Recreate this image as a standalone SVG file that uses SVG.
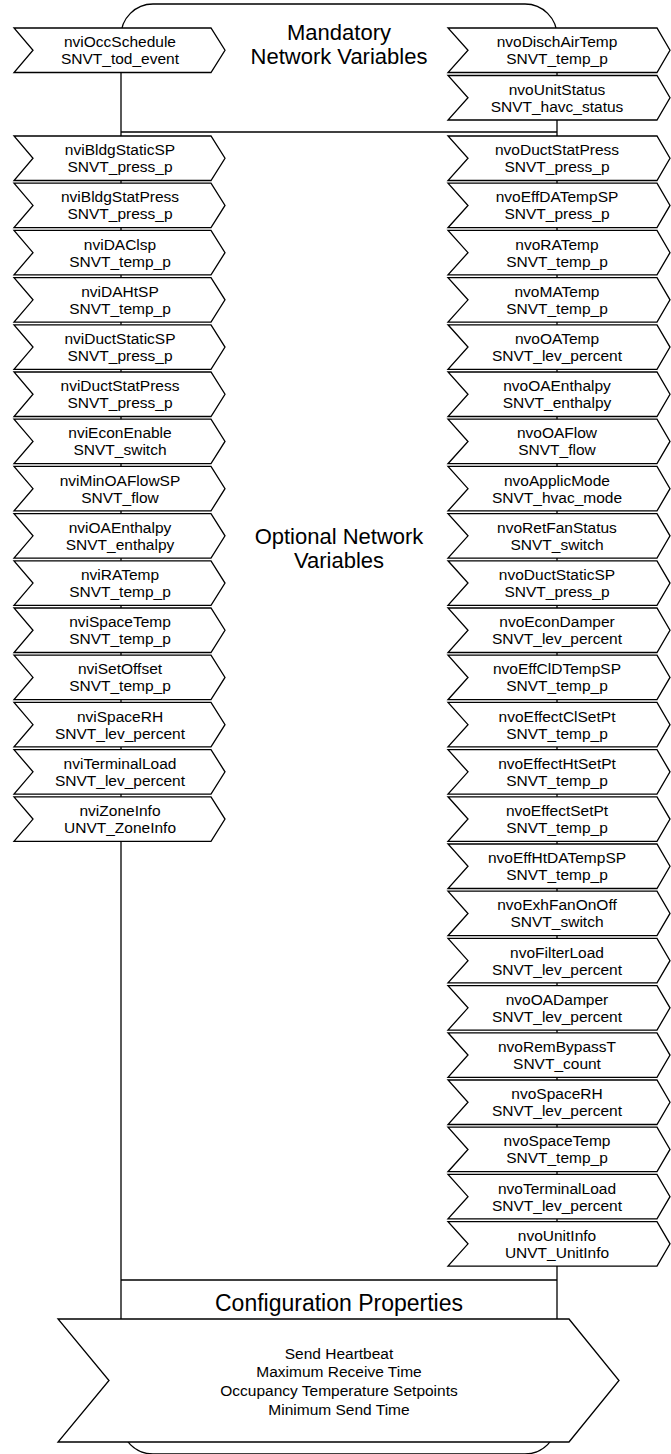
<svg xmlns="http://www.w3.org/2000/svg" xmlns:xlink="http://www.w3.org/1999/xlink" width="671" height="1454" viewBox="0 0 671 1454">
<style>
.ln{fill:none;stroke:#000;stroke-width:1.3}
.ch{fill:#fff;stroke:#000;stroke-width:1.3;stroke-linejoin:miter}
use{fill:#fff;stroke:#000;stroke-width:1.3}
.t{font-family:"Liberation Sans",Arial,sans-serif;font-size:15.5px;fill:#000;text-anchor:middle}
.h{font-family:"Liberation Sans",Arial,sans-serif;font-size:22px;fill:#000;text-anchor:middle}
.hc{font-family:"Liberation Sans",Arial,sans-serif;font-size:23px;fill:#000;text-anchor:middle}
</style>
<defs>
<path id="chL" d="M14,0 H211 L225,22.25 L211,44.5 H14 L33,22.25 Z"/>
<path id="chR" d="M448,0 H657 L670,22.25 L657,44.5 H448 L468,22.25 Z"/>
</defs>
<g id="connectors">
<rect class="ln" x="121" y="4" width="436" height="1450" rx="32" ry="32"/>
<line class="ln" x1="121" y1="132" x2="557" y2="132"/>
<line class="ln" x1="121" y1="1280" x2="557" y2="1280"/>
</g>
<g id="title-mandatory"><text class="h" x="339" y="40">Mandatory</text><text class="h" x="339" y="64">Network Variables</text></g>
<g id="title-optional"><text class="h" x="339" y="544">Optional Network</text><text class="h" x="339" y="568">Variables</text></g>
<g id="title-config"><text class="hc" x="339" y="1311">Configuration Properties</text></g>
<g id="nviOccSchedule"><use xlink:href="#chL" y="28"/><text class="t"><tspan x="120" y="47.25">nviOccSchedule</tspan><tspan x="120" y="64.25">SNVT_tod_event</tspan></text></g>
<g id="nvoDischAirTemp"><use xlink:href="#chR" y="28"/><text class="t"><tspan x="557" y="47.25">nvoDischAirTemp</tspan><tspan x="557" y="64.25">SNVT_temp_p</tspan></text></g>
<g id="nvoUnitStatus"><use xlink:href="#chR" y="75.5"/><text class="t"><tspan x="557" y="94.75">nvoUnitStatus</tspan><tspan x="557" y="111.75">SNVT_havc_status</tspan></text></g>
<g id="nviBldgStaticSP"><use xlink:href="#chL" y="136"/><text class="t"><tspan x="120" y="155.25">nviBldgStaticSP</tspan><tspan x="120" y="172.25">SNVT_press_p</tspan></text></g>
<g id="nviBldgStatPress"><use xlink:href="#chL" y="183.2"/><text class="t"><tspan x="120" y="202.45">nviBldgStatPress</tspan><tspan x="120" y="219.45">SNVT_press_p</tspan></text></g>
<g id="nviDAClsp"><use xlink:href="#chL" y="230.4"/><text class="t"><tspan x="120" y="249.65">nviDAClsp</tspan><tspan x="120" y="266.65">SNVT_temp_p</tspan></text></g>
<g id="nviDAHtSP"><use xlink:href="#chL" y="277.6"/><text class="t"><tspan x="120" y="296.85">nviDAHtSP</tspan><tspan x="120" y="313.85">SNVT_temp_p</tspan></text></g>
<g id="nviDuctStaticSP"><use xlink:href="#chL" y="324.8"/><text class="t"><tspan x="120" y="344.05">nviDuctStaticSP</tspan><tspan x="120" y="361.05">SNVT_press_p</tspan></text></g>
<g id="nviDuctStatPress"><use xlink:href="#chL" y="372"/><text class="t"><tspan x="120" y="391.25">nviDuctStatPress</tspan><tspan x="120" y="408.25">SNVT_press_p</tspan></text></g>
<g id="nviEconEnable"><use xlink:href="#chL" y="419.2"/><text class="t"><tspan x="120" y="438.45">nviEconEnable</tspan><tspan x="120" y="455.45">SNVT_switch</tspan></text></g>
<g id="nviMinOAFlowSP"><use xlink:href="#chL" y="466.4"/><text class="t"><tspan x="120" y="485.65">nviMinOAFlowSP</tspan><tspan x="120" y="502.65">SNVT_flow</tspan></text></g>
<g id="nviOAEnthalpy"><use xlink:href="#chL" y="513.6"/><text class="t"><tspan x="120" y="532.85">nviOAEnthalpy</tspan><tspan x="120" y="549.85">SNVT_enthalpy</tspan></text></g>
<g id="nviRATemp"><use xlink:href="#chL" y="560.8"/><text class="t"><tspan x="120" y="580.05">nviRATemp</tspan><tspan x="120" y="597.05">SNVT_temp_p</tspan></text></g>
<g id="nviSpaceTemp"><use xlink:href="#chL" y="608"/><text class="t"><tspan x="120" y="627.25">nviSpaceTemp</tspan><tspan x="120" y="644.25">SNVT_temp_p</tspan></text></g>
<g id="nviSetOffset"><use xlink:href="#chL" y="655.2"/><text class="t"><tspan x="120" y="674.45">nviSetOffset</tspan><tspan x="120" y="691.45">SNVT_temp_p</tspan></text></g>
<g id="nviSpaceRH"><use xlink:href="#chL" y="702.4"/><text class="t"><tspan x="120" y="721.65">nviSpaceRH</tspan><tspan x="120" y="738.65">SNVT_lev_percent</tspan></text></g>
<g id="nviTerminalLoad"><use xlink:href="#chL" y="749.6"/><text class="t"><tspan x="120" y="768.85">nviTerminalLoad</tspan><tspan x="120" y="785.85">SNVT_lev_percent</tspan></text></g>
<g id="nviZoneInfo"><use xlink:href="#chL" y="796.8"/><text class="t"><tspan x="120" y="816.05">nviZoneInfo</tspan><tspan x="120" y="833.05">UNVT_ZoneInfo</tspan></text></g>
<g id="nvoDuctStatPress"><use xlink:href="#chR" y="136"/><text class="t"><tspan x="557" y="155.25">nvoDuctStatPress</tspan><tspan x="557" y="172.25">SNVT_press_p</tspan></text></g>
<g id="nvoEffDATempSP"><use xlink:href="#chR" y="183.2"/><text class="t"><tspan x="557" y="202.45">nvoEffDATempSP</tspan><tspan x="557" y="219.45">SNVT_press_p</tspan></text></g>
<g id="nvoRATemp"><use xlink:href="#chR" y="230.4"/><text class="t"><tspan x="557" y="249.65">nvoRATemp</tspan><tspan x="557" y="266.65">SNVT_temp_p</tspan></text></g>
<g id="nvoMATemp"><use xlink:href="#chR" y="277.6"/><text class="t"><tspan x="557" y="296.85">nvoMATemp</tspan><tspan x="557" y="313.85">SNVT_temp_p</tspan></text></g>
<g id="nvoOATemp"><use xlink:href="#chR" y="324.8"/><text class="t"><tspan x="557" y="344.05">nvoOATemp</tspan><tspan x="557" y="361.05">SNVT_lev_percent</tspan></text></g>
<g id="nvoOAEnthalpy"><use xlink:href="#chR" y="372"/><text class="t"><tspan x="557" y="391.25">nvoOAEnthalpy</tspan><tspan x="557" y="408.25">SNVT_enthalpy</tspan></text></g>
<g id="nvoOAFlow"><use xlink:href="#chR" y="419.2"/><text class="t"><tspan x="557" y="438.45">nvoOAFlow</tspan><tspan x="557" y="455.45">SNVT_flow</tspan></text></g>
<g id="nvoApplicMode"><use xlink:href="#chR" y="466.4"/><text class="t"><tspan x="557" y="485.65">nvoApplicMode</tspan><tspan x="557" y="502.65">SNVT_hvac_mode</tspan></text></g>
<g id="nvoRetFanStatus"><use xlink:href="#chR" y="513.6"/><text class="t"><tspan x="557" y="532.85">nvoRetFanStatus</tspan><tspan x="557" y="549.85">SNVT_switch</tspan></text></g>
<g id="nvoDuctStaticSP"><use xlink:href="#chR" y="560.8"/><text class="t"><tspan x="557" y="580.05">nvoDuctStaticSP</tspan><tspan x="557" y="597.05">SNVT_press_p</tspan></text></g>
<g id="nvoEconDamper"><use xlink:href="#chR" y="608"/><text class="t"><tspan x="557" y="627.25">nvoEconDamper</tspan><tspan x="557" y="644.25">SNVT_lev_percent</tspan></text></g>
<g id="nvoEffClDTempSP"><use xlink:href="#chR" y="655.2"/><text class="t"><tspan x="557" y="674.45">nvoEffClDTempSP</tspan><tspan x="557" y="691.45">SNVT_temp_p</tspan></text></g>
<g id="nvoEffectClSetPt"><use xlink:href="#chR" y="702.4"/><text class="t"><tspan x="557" y="721.65">nvoEffectClSetPt</tspan><tspan x="557" y="738.65">SNVT_temp_p</tspan></text></g>
<g id="nvoEffectHtSetPt"><use xlink:href="#chR" y="749.6"/><text class="t"><tspan x="557" y="768.85">nvoEffectHtSetPt</tspan><tspan x="557" y="785.85">SNVT_temp_p</tspan></text></g>
<g id="nvoEffectSetPt"><use xlink:href="#chR" y="796.8"/><text class="t"><tspan x="557" y="816.05">nvoEffectSetPt</tspan><tspan x="557" y="833.05">SNVT_temp_p</tspan></text></g>
<g id="nvoEffHtDATempSP"><use xlink:href="#chR" y="844"/><text class="t"><tspan x="557" y="863.25">nvoEffHtDATempSP</tspan><tspan x="557" y="880.25">SNVT_temp_p</tspan></text></g>
<g id="nvoExhFanOnOff"><use xlink:href="#chR" y="891.2"/><text class="t"><tspan x="557" y="910.45">nvoExhFanOnOff</tspan><tspan x="557" y="927.45">SNVT_switch</tspan></text></g>
<g id="nvoFilterLoad"><use xlink:href="#chR" y="938.4"/><text class="t"><tspan x="557" y="957.65">nvoFilterLoad</tspan><tspan x="557" y="974.65">SNVT_lev_percent</tspan></text></g>
<g id="nvoOADamper"><use xlink:href="#chR" y="985.6"/><text class="t"><tspan x="557" y="1004.85">nvoOADamper</tspan><tspan x="557" y="1021.85">SNVT_lev_percent</tspan></text></g>
<g id="nvoRemBypassT"><use xlink:href="#chR" y="1032.8"/><text class="t"><tspan x="557" y="1052.05">nvoRemBypassT</tspan><tspan x="557" y="1069.05">SNVT_count</tspan></text></g>
<g id="nvoSpaceRH"><use xlink:href="#chR" y="1080"/><text class="t"><tspan x="557" y="1099.25">nvoSpaceRH</tspan><tspan x="557" y="1116.25">SNVT_lev_percent</tspan></text></g>
<g id="nvoSpaceTemp"><use xlink:href="#chR" y="1127.2"/><text class="t"><tspan x="557" y="1146.45">nvoSpaceTemp</tspan><tspan x="557" y="1163.45">SNVT_temp_p</tspan></text></g>
<g id="nvoTerminalLoad"><use xlink:href="#chR" y="1174.4"/><text class="t"><tspan x="557" y="1193.65">nvoTerminalLoad</tspan><tspan x="557" y="1210.65">SNVT_lev_percent</tspan></text></g>
<g id="nvoUnitInfo"><use xlink:href="#chR" y="1221.6"/><text class="t"><tspan x="557" y="1240.85">nvoUnitInfo</tspan><tspan x="557" y="1257.85">UNVT_UnitInfo</tspan></text></g>
<g id="config"><path class="ch" d="M58,1319 H569 L619,1380.5 L569,1442 H58 L109,1380.5 Z"/><text class="t"><tspan x="339" y="1358.5">Send Heartbeat</tspan><tspan x="339" y="1377.2">Maximum Receive Time</tspan><tspan x="339" y="1395.8">Occupancy Temperature Setpoints</tspan><tspan x="339" y="1414.5">Minimum Send Time</tspan></text></g>
</svg>
